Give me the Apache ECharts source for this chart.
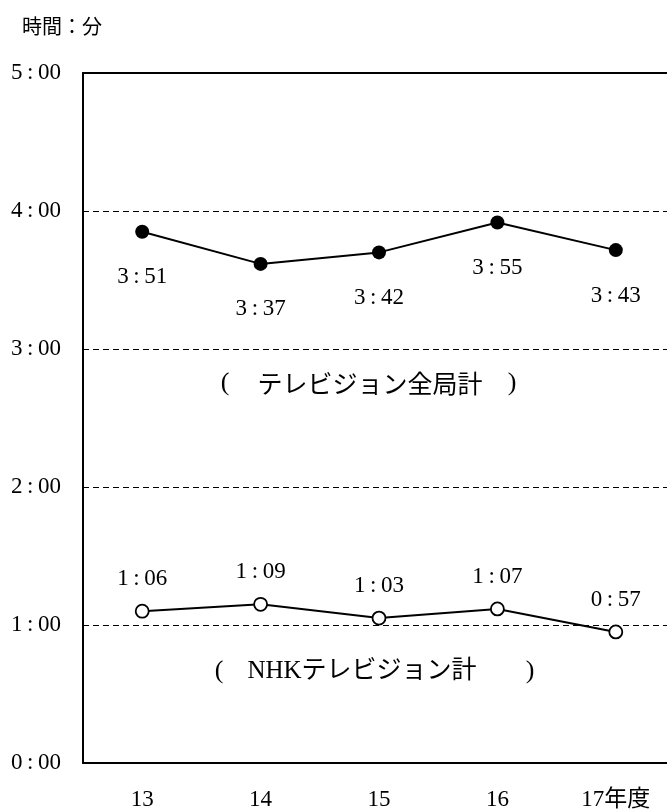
<!DOCTYPE html>
<html>
<head>
<meta charset="utf-8">
<script src="https://cdn.jsdelivr.net/npm/echarts@6/dist/echarts.min.js"></script>
<style>
  html, body { margin: 0; padding: 0; background: #fff; }
  #chart { width: 667px; height: 812px; }
</style>
</head>
<body>
<div id="chart"></div>
<script>
// 年度
const categories = ["13", "14", "15", "16", "17年度"];
// テレビジョン全局計 (分)
const totalTv = [231, 217, 222, 235, 223];
// NHKテレビジョン計 (分)
const nhkTv = [66, 69, 63, 67, 57];

const numFont = '"Liberation Serif", "Noto Sans CJK JP", serif';
const jpFont = '"Noto Sans CJK JP", sans-serif';

// 分 -> "h:mm"
function toHM(v) {
  const h = Math.floor(v / 60);
  const m = v % 60;
  return h + "\u2009:\u2009" + (m < 10 ? "0" + m : m);
}

const chart = echarts.init(document.getElementById("chart"));
chart.setOption({
  animation: false,
  // 右端は画面の外まで続く
  grid: { left: 83, top: 73, right: -8, bottom: 49, outerBoundsMode: "none", containLabel: false },
  xAxis: [
    {
      type: "category",
      data: categories,
      boundaryGap: true,
      axisLine: { lineStyle: { color: "#000", width: 2 } },
      axisTick: { inside: true, length: 7, lineStyle: { color: "#000", width: 1 } },
      axisLabel: { color: "#000", fontFamily: numFont, fontSize: 23, margin: 25 },
      splitLine: { show: false }
    },
    {
      // 上の枠線
      type: "category",
      data: categories,
      position: "top",
      axisLine: { lineStyle: { color: "#000", width: 2 } },
      axisTick: { show: false },
      axisLabel: { show: false }
    }
  ],
  yAxis: {
    type: "value",
    min: 0,
    max: 300,
    interval: 60,
    axisLine: { show: true, lineStyle: { color: "#000", width: 2 } },
    axisTick: { show: false },
    axisLabel: {
      color: "#000",
      fontFamily: numFont,
      fontSize: 23,
      margin: 22,
      formatter: toHM
    },
    splitLine: { lineStyle: { color: "#000", width: 1, type: [6, 4] } }
  },
  series: [
    {
      name: "テレビジョン全局計",
      type: "line",
      data: totalTv,
      symbol: "circle",
      symbolSize: 14,
      lineStyle: { color: "#000", width: 2 },
      itemStyle: { color: "#000" },
      label: {
        show: true,
        position: "bottom",
        distance: 27,
        color: "#000",
        fontFamily: numFont,
        fontSize: 23,
        formatter: p => toHM(p.value)
      }
    },
    {
      name: "NHKテレビジョン計",
      type: "line",
      data: nhkTv,
      symbol: "circle",
      symbolSize: 13,
      lineStyle: { color: "#000", width: 2 },
      itemStyle: { color: "#fff", borderColor: "#000", borderWidth: 1.8 },
      label: {
        show: true,
        position: "top",
        distance: 13,
        color: "#000",
        fontFamily: numFont,
        fontSize: 23,
        formatter: p => toHM(p.value)
      }
    }
  ],
  graphic: [
    {
      type: "text",
      x: 22,
      y: 26,
      style: { text: "時間：分", fill: "#000", font: "20px " + jpFont, verticalAlign: "middle" }
    },
    // ( テレビジョン全局計 )
    {
      type: "text", x: 225, y: 383,
      style: { text: "(", fill: "#000", font: "26px " + numFont, align: "center", verticalAlign: "middle" }
    },
    {
      type: "text", x: 370, y: 383,
      style: { text: "テレビジョン全局計", fill: "#000", font: "25px " + jpFont, align: "center", verticalAlign: "middle" }
    },
    {
      type: "text", x: 512, y: 383,
      style: { text: ")", fill: "#000", font: "26px " + numFont, align: "center", verticalAlign: "middle" }
    },
    // ( NHKテレビジョン計 )
    {
      type: "text", x: 219, y: 671,
      style: { text: "(", fill: "#000", font: "26px " + numFont, align: "center", verticalAlign: "middle" }
    },
    {
      type: "text", x: 362, y: 671,
      style: { text: "NHKテレビジョン計", fill: "#000", font: "25px " + numFont, align: "center", verticalAlign: "middle" }
    },
    {
      type: "text", x: 530, y: 671,
      style: { text: ")", fill: "#000", font: "26px " + numFont, align: "center", verticalAlign: "middle" }
    }
  ]
});
</script>
</body>
</html>
